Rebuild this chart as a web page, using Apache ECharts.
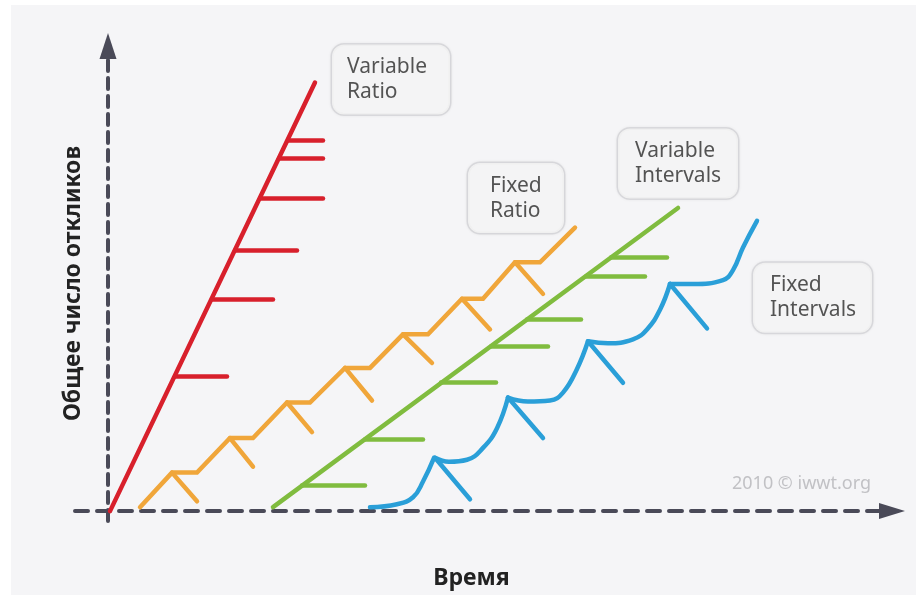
<!DOCTYPE html>
<html>
<head>
<meta charset="utf-8">
<script src="https://cdn.jsdelivr.net/npm/echarts@6/dist/echarts.min.js"></script>
<style>
  html, body { margin: 0; padding: 0; background: #ffffff; width: 916px; height: 595px; overflow: hidden; }
  #c { position: absolute; left: 11px; top: 5px; width: 905px; height: 590px; background: #f5f5f7; }
</style>
</head>
<body>
<div id="c"></div>
<script>
// ---- Data (x = time, y = cumulative responses; units) ----
var xAxisName = 'Время';
var yAxisName = 'Общее число откликов';

// Variable Ratio (red): steep straight line + horizontal reinforcement ticks
var redLine = [[2, 0], [207, 434]];
var redTicks = [ // [xStart, y, xEnd]
  [67, 137, 119], [104, 215, 165], [127, 264, 189],
  [152, 317, 215], [171, 357, 215], [180, 376, 215]
];

// Fixed Ratio (orange): staircase with post-reinforcement pauses
var orangePath = [
  [32, 4], [64, 39], [89, 39], [122, 74], [145, 74], [179, 110], [202, 110],
  [237, 145], [262, 145], [295, 179], [320, 179], [354, 215], [375, 215],
  [407, 252], [432, 252], [467, 287]
];
var orangeTicks = [ // [x1, y1, x2, y2]
  [64, 39, 89, 10], [122, 74, 145, 45], [179, 110, 204, 80], [237, 145, 264, 112],
  [295, 179, 324, 150], [354, 215, 382, 184], [407, 252, 435, 220]
];

// Variable Intervals (green): straight line + horizontal ticks
var greenLine = [[165, 4], [570, 307]];
var greenTicks = [ // [xStart, y, xEnd]
  [194, 26, 257], [257, 73, 315], [333, 130, 388], [383, 167, 440],
  [419, 194, 473], [478, 238, 537], [503, 257, 559]
];

// Fixed Intervals (blue): scallops
var blueScallops = [
  [[262, 4], [289, 7], [305, 14], [315, 30], [326, 54]],
  [[327, 54], [341, 50], [359, 52], [375, 64], [389, 84], [400, 115]],
  [[400, 115], [420, 111], [442, 112], [455, 120], [469, 144], [480, 172]],
  [[480, 172], [500, 170], [525, 174], [539, 184], [552, 204], [562, 230]],
  [[562, 230], [585, 230], [615, 234], [625, 244], [635, 267], [649, 294]]
];
var blueTicks = [ // [x1, y1, x2, y2]
  [327, 54, 362, 12], [400, 115, 435, 74], [480, 172, 515, 130], [562, 230, 599, 185]
];

// Annotations: text and anchor (left edge, vertical middle of the box)
var noteTexts = ['Variable\nRatio', 'Fixed\nRatio', 'Variable\nIntervals', 'Fixed\nIntervals'];
var noteAnchors = [[224, 437], [360, 317], [510, 352], [645, 216]];
var noteWidths = [118, 96, 120, 119];
var notePadLeft = [15, 22, 17, 17];
var creditText = '2010 © iwwt.org';
var creditAnchor = [624, 28];

// ---- Chart ----
var COLORS = { red: '#d8202c', orange: '#f0a63a', green: '#80bc3f', blue: '#2a9fd8', axis: '#4a4a58' };
var LW = 4.5;

function segLines(name, color, segs) {
  return {
    type: 'lines', name: name, coordinateSystem: 'cartesian2d', silent: true,
    lineStyle: { color: color, width: LW, opacity: 1, cap: 'round', curveness: 0 },
    data: segs.map(function (s) { return { coords: s }; }),
    z: 3
  };
}

var series = [];
series.push(segLines('red', COLORS.red, [redLine]));
series.push(segLines('redTicks', COLORS.red, redTicks.map(function (t) { return [[t[0], t[1]], [t[2], t[1]]]; })));
series.push({
  type: 'lines', coordinateSystem: 'cartesian2d', polyline: true, silent: true,
  lineStyle: { color: COLORS.orange, width: LW, opacity: 1, cap: 'round', join: 'miter' },
  data: [{ coords: orangePath }], z: 3
});
series.push(segLines('orangeTicks', COLORS.orange, orangeTicks.map(function (t) { return [[t[0], t[1]], [t[2], t[3]]]; })));
series.push(segLines('green', COLORS.green, [greenLine]));
series.push(segLines('greenTicks', COLORS.green, greenTicks.map(function (t) { return [[t[0], t[1]], [t[2], t[1]]]; })));
blueScallops.forEach(function (sc) {
  series.push({
    type: 'line', data: sc, smooth: 0.45, showSymbol: false, silent: true,
    lineStyle: { color: COLORS.blue, width: LW, cap: 'round' }, z: 3
  });
});
series.push(segLines('blueTicks', COLORS.blue, blueTicks.map(function (t) { return [[t[0], t[1]], [t[2], t[3]]]; })));

// annotation boxes
series.push({
  type: 'scatter', symbolSize: 0, silent: true, z: 5,
  data: noteAnchors.map(function (a, i) {
    return {
      value: a,
      label: {
        show: true, position: 'right', distance: 0,
        formatter: noteTexts[i],
        fontFamily: 'Noto Sans', fontSize: 21, color: '#2a2a2a', lineHeight: 25,
        width: noteWidths[i] - notePadLeft[i] - 4,
        padding: [10, 4, 10, notePadLeft[i]],
        backgroundColor: '#f7f7f8', borderColor: '#d6d6d9', borderWidth: 1.5, borderRadius: 12,
        shadowBlur: 3, shadowColor: 'rgba(0,0,0,0.08)'
      }
    };
  })
});
series.push({
  type: 'scatter', symbolSize: 0, silent: true, z: 5,
  data: [{ value: creditAnchor, label: { show: true, position: 'right', distance: 0, formatter: creditText,
    fontFamily: 'Noto Sans', fontSize: 18, color: '#b4b4b8' } }]
});

var chart = echarts.init(document.getElementById('c'), null, { renderer: 'canvas' });
chart.setOption({
  animation: false,
  backgroundColor: 'transparent',
  grid: { left: 64, right: 24, top: 41, bottom: 68, containLabel: false },
  xAxis: {
    type: 'value', min: -33, max: 784,
    name: xAxisName, nameLocation: 'middle', nameGap: 46,
    nameTextStyle: { fontFamily: 'Noto Sans', fontWeight: 'bold', fontSize: 23, color: '#222222', padding: [0, 24, 0, 0] },
    axisLine: { onZero: true, symbol: ['none', 'triangle'], symbolSize: [16, 26],
      lineStyle: { color: COLORS.axis, width: 4, type: [13, 9] } },
    axisTick: { show: false }, axisLabel: { show: false }, splitLine: { show: false }
  },
  yAxis: {
    type: 'value', min: -10, max: 471,
    name: yAxisName, nameLocation: 'middle', nameGap: -10,
    nameTextStyle: { fontFamily: 'Noto Sans', fontWeight: 'bold', fontSize: 23, color: '#222222' },
    axisLine: { onZero: true, symbol: ['none', 'triangle'], symbolSize: [17, 26],
      lineStyle: { color: COLORS.axis, width: 4, type: [11, 7] } },
    axisTick: { show: false }, axisLabel: { show: false }, splitLine: { show: false }
  },
  series: series
});
</script>
</body>
</html>
